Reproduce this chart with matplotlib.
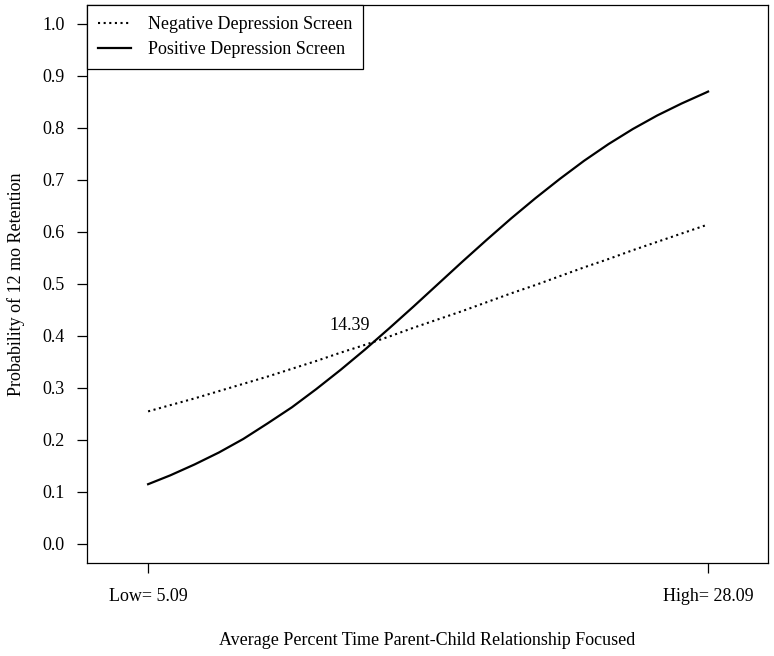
import matplotlib
matplotlib.use("Agg")
import matplotlib.pyplot as plt

# values
pct_time = [5.09, 6, 7, 8, 9, 10, 11, 12, 13, 14, 15, 16, 17, 18, 19, 20,
            21, 22, 23, 24, 25, 26, 27, 28, 28.09]
neg_screen = [0.255, 0.267, 0.280, 0.294, 0.308, 0.322, 0.337, 0.352, 0.368,
              0.383, 0.399, 0.416, 0.432, 0.448, 0.465, 0.482, 0.498, 0.515,
              0.532, 0.548, 0.565, 0.581, 0.597, 0.613, 0.615]
pos_screen = [0.115, 0.132, 0.153, 0.176, 0.202, 0.232, 0.263, 0.298, 0.335,
              0.374, 0.415, 0.457, 0.500, 0.543, 0.585, 0.626, 0.665, 0.702,
              0.737, 0.769, 0.798, 0.824, 0.847, 0.868, 0.870]

x_ticks = [5.09, 28.09]
x_tick_labels = ["Low= 5.09", "High= 28.09"]
y_ticks = [0.0, 0.1, 0.2, 0.3, 0.4, 0.5, 0.6, 0.7, 0.8, 0.9, 1.0]
crossing_label = "14.39"
crossing_pos = (13.35, 0.421)

plt.rcParams["font.family"] = ["Liberation Serif", "DejaVu Serif"]
plt.rcParams["font.size"] = 13

fig = plt.figure(figsize=(7.74, 6.56), dpi=100)
ax = fig.add_axes([0.1124, 0.1418, 0.8798, 0.8506])

ax.plot(pct_time, neg_screen, color="black", lw=1.5, linestyle=(0, (1, 1.7)),
        label="Negative Depression Screen")
ax.plot(pct_time, pos_screen, color="black", lw=1.6, linestyle="-",
        solid_joinstyle="round", label="Positive Depression Screen")

ax.text(crossing_pos[0], crossing_pos[1], crossing_label, ha="center", va="center")

ax.set_xlim(2.58, 30.55)
ax.set_ylim(-0.0365, 1.0365)
ax.set_xticks(x_ticks)
ax.set_xticklabels(x_tick_labels)
ax.set_yticks(y_ticks)
ax.set_yticklabels([f"{v:.1f}" for v in y_ticks])

ax.tick_params(axis="both", direction="out", length=7.2, width=0.9, color="black")
ax.tick_params(axis="x", pad=11)
ax.tick_params(axis="y", pad=9)
for sp in ax.spines.values():
    sp.set_linewidth(0.9)
    sp.set_color("black")

ax.set_xlabel("Average Percent Time Parent-Child Relationship Focused", labelpad=19)
ax.set_ylabel("Probability of 12 mo Retention", labelpad=12)

leg = ax.legend(loc="upper left", bbox_to_anchor=(0, 1), borderaxespad=0,
                frameon=True, fancybox=False, framealpha=1, edgecolor="black",
                handlelength=1.8, handletextpad=0.95, labelspacing=0.45,
                borderpad=0.62)
leg.get_frame().set_linewidth(0.9)

fig.savefig("out.png", dpi=100)
